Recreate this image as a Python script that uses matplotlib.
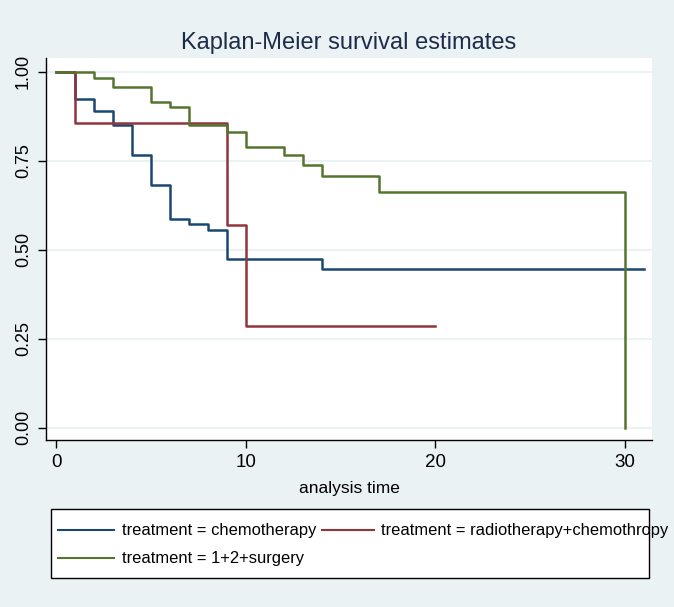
import matplotlib
matplotlib.use("Agg")
import matplotlib.pyplot as plt
from matplotlib.lines import Line2D
from matplotlib.patches import Rectangle

# Kaplan-Meier step values
chemo_t = [0, 1, 2, 3, 4, 5, 6, 7, 8, 9, 14, 31]
chemo_s = [1.0, 0.923, 0.890, 0.851, 0.767, 0.681, 0.587, 0.572, 0.556, 0.474, 0.446, 0.446]

radio_t = [0, 1, 9, 10, 20]
radio_s = [1.0, 0.857, 0.571, 0.286, 0.286]

surg_t = [0, 2, 3, 5, 6, 7, 9, 10, 12, 13, 14, 17, 30]
surg_s = [1.0, 0.984, 0.957, 0.915, 0.901, 0.852, 0.832, 0.790, 0.765, 0.739, 0.708, 0.661, 0.0]

labels = ["treatment = chemotherapy",
          "treatment = radiotherapy+chemothropy",
          "treatment = 1+2+surgery"]
colors = ["#1a476f", "#90353b", "#55752f"]

xticks = [0, 10, 20, 30]
yticks = [0.0, 0.25, 0.5, 0.75, 1.0]

BG = "#eaf2f3"
W, H = 674, 607
plt.rcParams['font.family'] = ['Liberation Sans', 'DejaVu Sans']

fig = plt.figure(figsize=(W / 100, H / 100), dpi=100, facecolor=BG)


def fx(px):
    return px / W


def fy(py):
    return 1 - py / H


left, right, top, bottom = 46, 652, 58, 440
ax = fig.add_axes([fx(left), fy(bottom), fx(right) - fx(left), fy(top) - fy(bottom)])
ax.set_facecolor("white")

for t, s, c in [(chemo_t, chemo_s, colors[0]), (radio_t, radio_s, colors[1]), (surg_t, surg_s, colors[2])]:
    ax.plot(t, s, drawstyle="steps-post", color=c, lw=1.8, zorder=3)

ax.set_xlim(-0.54, 31.42)
ax.set_ylim(-0.0346, 1.039)
ax.set_xticks(xticks)
ax.set_xticklabels([str(v) for v in xticks], fontsize=13.5)
ax.set_yticks(yticks)
ax.set_yticklabels([f"{v:.2f}" for v in yticks], fontsize=13, rotation=90, va="center")
for yv in yticks:
    ax.axhline(yv, color=BG, lw=1.5, zorder=1)
ax.tick_params(axis="both", length=6, width=1, color="black", pad=4)
for sp in ["top", "right"]:
    ax.spines[sp].set_visible(False)
for sp in ["left", "bottom"]:
    ax.spines[sp].set_linewidth(1)

fig.text(fx(349), fy(49), "Kaplan-Meier survival estimates", fontsize=17,
         color="#1e2c4a", ha="center", va="baseline")
fig.text(fx(349), fy(493), "analysis time", fontsize=12.5, ha="center", va="baseline")

# legend box drawn by hand, text runs past the frame as in the reference
fig.patches.append(Rectangle((fx(51), fy(578)), fx(649) - fx(51), fy(509) - fy(578),
                             transform=fig.transFigure, facecolor="white",
                             edgecolor="black", lw=1, zorder=1))
entries = [(58, 114, 122, 530, 0), (322, 374, 381, 530, 1), (58, 114, 122, 558, 2)]
for x0, x1, xt, yy, i in entries:
    fig.lines.append(Line2D([fx(x0), fx(x1)], [fy(yy), fy(yy)], transform=fig.transFigure,
                            color=colors[i], lw=1.5, zorder=2))
    fig.text(fx(xt), fy(yy), labels[i], fontsize=11.9, ha="left", va="center", zorder=3)

fig.savefig("out.png", dpi=100, facecolor=BG)
